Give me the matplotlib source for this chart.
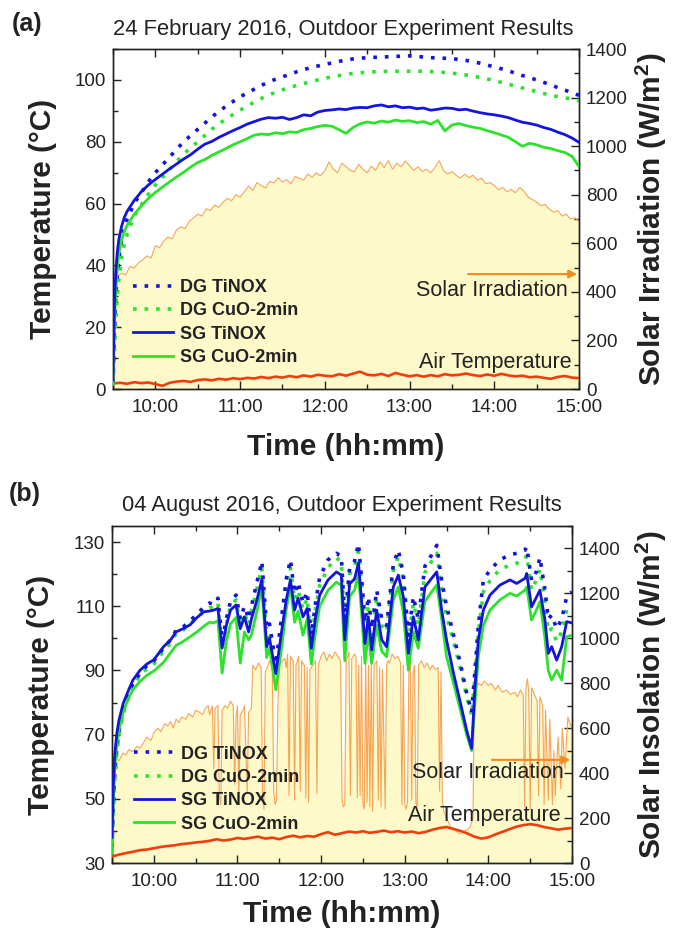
import numpy as np
import matplotlib
matplotlib.use("Agg")
import matplotlib.pyplot as plt
from matplotlib.ticker import MultipleLocator, FixedLocator
from matplotlib import font_manager as fm

plt.rcParams['font.family'] = ['Liberation Sans', 'DejaVu Sans']
plt.rcParams['mathtext.fontset'] = 'custom'
plt.rcParams['mathtext.rm'] = 'Liberation Sans'
plt.rcParams['mathtext.bf'] = 'Liberation Sans:bold'

_names = {f.name for f in fm.fontManager.ttflist}
NARROW = 'Liberation Sans Narrow' in _names
TICK_FAM = ['Liberation Sans Narrow', 'Liberation Sans'] if NARROW else ['Liberation Sans']
TICK_SIZE = 15.5 if NARROW else 13.5

# ---------------- Panel (a) data : 24 Feb 2016 ----------------
a_temp_min = [0, 1, 2, 3, 4, 6, 8] + list(range(10, 331, 5))
a_dg_tinox = [2, 18, 30, 37, 42, 48, 52,
              55, 60, 63.5, 67, 70, 72.5, 75, 77.5, 80, 82, 84, 86, 88, 89.8, 91.5, 93,
              94.5, 95.8, 97, 98.2, 99.3, 100.2, 101, 101.8, 102.6, 103.3, 104, 104.5,
              105, 105.5, 106, 106.4, 106.8, 107, 107.2, 107.3, 107.4, 107.5, 107.6, 107.7,
              107.8, 107.6, 107.4, 107.2, 107.1, 107, 106.9, 106.6, 106.3, 105.9, 105.4, 104.8,
              104.2, 103.6, 102.9, 102.2, 101.4, 100.7, 100.0, 99.2, 98.4, 97.5, 96.7, 95.9, 95.0]
a_dg_cuo = [1, 12, 22, 30, 35, 42, 47,
            50, 56, 59.5, 63, 66, 68.5, 71, 73.5, 76, 78, 80, 82, 84, 85.8, 87.3, 88.8,
            90.2, 91.5, 92.8, 94, 95, 96, 96.8, 97.5, 98.2, 98.8, 99.4, 100,
            100.5, 101, 101.4, 101.8, 102.1, 102.3, 102.5, 102.6, 102.7, 102.8, 102.8, 102.8,
            102.8, 102.8, 102.8, 102.7, 102.6, 102.4, 102.2, 101.9, 101.6, 101.2, 100.8, 100.3,
            99.8, 99.2, 98.6, 98, 97.4, 96.8, 96.2, 95.6, 95, 94.6, 94.2, 93.8, 93.3]
a_sg_tinox = [3, 28, 38, 44, 48, 52.5, 55.5,
              57.5, 61, 63.8, 66, 67.8, 69.5, 71.2, 72.8, 74.4, 75.8, 77.6, 79.2, 80.1, 81.4, 82.5, 83.6,
              84.6, 85.7, 86.5, 87.3, 87.8, 87.6, 87.9, 87.2, 87.8, 88.7, 88.4, 89.6,
              90.1, 90.3, 90.6, 90.4, 90.9, 91.1, 91.0, 91.6, 91.9, 91.3, 91.6, 91.0,
              91.2, 90.7, 90.9, 90.2, 90.5, 90.9, 90.8, 90.3, 90.5, 89.9, 89.4, 89.0,
              88.7, 88.3, 87.8, 87.0, 86.3, 85.9, 85.4, 84.6, 84.0, 83.1, 82.3, 81.2, 79.8]
a_sg_cuo = [2, 20, 32, 39, 43.5, 48, 51,
            53, 56.5, 59.2, 61.6, 63.6, 65.3, 67.0, 68.6, 70.1, 71.8, 73.3, 74.2, 75.6, 76.7, 77.8, 79.0,
            80.0, 81.0, 82.1, 82.5, 82.3, 82.9, 82.6, 83.2, 83.0, 83.9, 84.3, 84.9,
            85.3, 85.0, 83.9, 82.7, 84.6, 85.8, 86.4, 86.0, 86.7, 86.3, 87.0, 86.6,
            86.8, 86.2, 86.5, 85.7, 86.9, 83.5, 85.4, 85.9, 85.2, 84.7, 84.3, 83.6,
            82.9, 82.2, 81.4, 80.0, 78.5, 79.5, 79.0, 78.2, 77.8, 77.1, 76.5, 75.3, 72.0]
a_air_min = list(range(0, 331, 5))
a_air = [1.8, 2.0, 1.7, 2.2, 1.9, 2.1, 1.6, 1.0, 2.0, 2.4, 2.6, 2.3,
         2.9, 3.1, 2.8, 3.3, 3.0, 3.5, 3.2, 3.6, 3.4, 3.9, 3.5, 4.0,
         3.7, 4.2, 3.8, 4.4, 4.0, 4.6, 4.3, 4.1, 4.8, 4.3, 5.0, 5.6,
         4.6, 4.4, 4.9, 4.2, 5.2, 4.6, 4.1, 4.5, 4.0, 4.5, 4.1, 4.8,
         4.4, 4.6, 5.0, 4.5, 4.2, 4.7, 4.3, 4.9, 4.4, 4.1, 4.3, 3.8,
         4.0, 3.6, 3.3, 3.9, 4.2, 3.7,
         3.5]
a_solar_min = list(range(0, 331, 3))
a_solar = [450, 462, 478, 470, 505, 498, 520, 532, 548, 540,
           590, 582, 610, 625, 618, 655, 668, 660, 690, 705,
           720, 712, 742, 735, 758, 748, 770, 785, 775, 800,
           790, 812, 835, 818, 850, 838, 828, 855, 848, 870,
           852, 862, 845, 875, 868, 860, 885, 872, 890, 878,
           898, 935, 905, 890, 930, 915, 900, 895, 925, 905,
           890, 918, 900, 935, 912, 940, 905, 930, 915, 938,
           920, 900, 915, 895, 905, 890, 912, 940, 900, 885,
           895, 880, 868, 885, 870, 880, 860, 868, 845, 850,
           838, 820, 830, 812, 822, 808, 830, 815, 790, 780,
           770, 755, 760, 740, 728, 735, 712, 720, 700, 705,
           690]

# ---------------- Panel (b) data : 04 Aug 2016 ----------------
b_temp_min = [0, 1, 2, 3.5, 5, 8, 12, 15, 20, 25, 30, 37, 42, 46, 51, 56, 61, 66, 70, 73, 76,
              79, 82, 85, 89, 92, 95, 98, 100, 104, 107.5, 111, 113, 117.5, 121.5, 125, 128,
              131, 133.5, 137, 140, 143, 146, 149, 155, 161, 164.5, 167, 170.5, 174, 176.8,
              179.2, 181.5, 183.9, 186.3, 189.9, 193.5, 197, 201.8, 205.4, 209, 212.6, 216.2,
              219.7, 224.5, 229.3, 233, 236.5, 240, 245, 250, 254.4, 258, 260.4, 262.8, 266.4,
              271.2, 278.3, 285.5, 290.3, 296.3, 297.5, 301, 304.7, 307, 310.6, 313, 315.4,
              319, 322.6, 326.2, 330]
b_sg_tinox = [38, 55, 64, 70.5, 74.5, 79.7, 84, 87, 90, 92, 93.3, 97.4, 99.5, 102, 103, 104.2,
              106.5, 108.3, 108.5, 108.8, 109.3,
              97, 104, 108.8, 110.4, 103, 106.7, 102, 106, 112, 118.4, 97.4, 100, 89, 101.6,
              112, 118.2, 108.8, 112.5, 106.7, 109.3, 96.9, 106.5, 113.5, 118.2, 120.7, 119.7,
              99.5, 117, 118.5, 123.5, 110.9, 98.4, 106.7, 96.4, 108.8, 99.5, 97.4, 116, 119.7,
              113, 95.3, 106.7, 99.5, 116, 118.7, 120.7, 108.8, 99.5, 89.1, 79.8, 71.4, 65.7,
              84.9, 99.5, 108.8, 113.5, 116.6, 118.2, 117.1, 118.7, 120.2, 109.8, 113, 115,
              105.7, 95.3, 97.4, 93.2, 97.4, 105.2, 104.8]
b_sg_cuo = [33, 50, 60, 67, 71.5, 77, 81.5, 84, 86.5, 88.5, 89.8, 92.5, 95.5, 97.8, 99, 100.5,
            102, 103.8, 105, 104.8, 105.5,
            89.2, 99, 104.5, 106.5, 92.3, 102, 99.5, 101, 108.5, 115.8, 94, 97, 84, 96.5,
            109, 116.5, 105, 108.5, 101, 106, 92, 102, 110, 115, 117.5, 116.5,
            93, 113, 115, 120, 107, 92.2, 102, 92.2, 104, 96, 94.3, 112, 116,
            108, 90.1, 102, 96.9, 111.5, 114.5, 116.6, 106, 94.3, 86, 77.5, 70, 65,
            80, 94.3, 104, 108.8, 112, 114, 113.2, 115, 116, 105.7, 109, 111.4,
            100, 90, 87, 90.1, 87, 100.5, 101]
b_dg_tinox = [35, 48, 58, 66, 71, 77.5, 82.5, 86, 89, 91.5, 93, 97, 99.5, 102.5, 103.5, 105.5,
              107.5, 109.8, 111, 110.5, 112.5,
              99, 106, 111.5, 113.5, 106, 110, 106, 110, 117.5, 124, 103, 104.5, 92, 106,
              118.5, 124.5, 114, 117.5, 111, 114.5, 101, 111, 119, 124.5, 126.5, 125.5,
              106, 122, 124, 129.5, 118, 105, 113, 103, 115, 106, 104, 123, 127.5,
              120, 101, 113, 106, 122.5, 126, 129, 118, 110, 101, 92, 83, 77,
              90, 104, 118.2, 121.3, 124.5, 126, 126.5, 127.5, 128.5, 118, 121, 125.2,
              115, 106, 107.3, 103, 106, 113, 114.5]
b_dg_cuo = [34, 46, 56, 64.5, 70, 76.5, 81.5, 85, 88.5, 90.5, 92, 96, 98.5, 101.5, 102.5, 104.5,
            106.5, 108.5, 109.5, 109.5, 111,
            97, 104, 110, 112, 104, 108, 104, 108.5, 115.5, 122, 100, 102, 90, 104,
            116, 122, 112, 115, 109, 112.5, 99, 109, 116.5, 122, 125, 124,
            103, 120, 122.5, 127, 116, 102, 110.5, 101, 113, 104, 102, 121, 125.5,
            118, 98.5, 111, 104, 120.5, 124, 126.5, 115.5, 107, 99, 90.5, 82, 76,
            88, 101.5, 114.5, 118, 121.5, 122.8, 123.4, 124.5, 126, 115, 118.5, 121.5,
            112, 102, 103, 99, 102, 109, 110]
b_air_min = list(range(0, 331, 5))
b_air = [32.0, 32.6, 33.1, 33.5, 34.0, 34.2, 34.6, 35.0, 35.3, 35.5, 35.9, 36.1,
         36.4, 36.6, 36.9, 37.4, 37.0, 37.3, 37.8, 37.5, 37.9, 38.2, 37.6, 37.9,
         37.4, 38.1, 38.5, 38.0, 38.4, 38.2, 39.0, 39.6, 38.8, 39.3, 39.8, 39.5,
         39.9, 39.4, 39.7, 40.1, 39.6, 39.9, 39.5, 39.8, 39.3, 39.7, 40.4, 40.9,
         41.2, 40.6, 40.0, 39.2, 38.2, 37.6, 38.0, 38.9, 39.7, 40.5, 41.3, 41.8,
         42.1, 41.8, 41.2, 40.8, 40.4, 40.7,
         40.9]
b_solar_min = [0, 1, 3, 5, 8, 10, 12, 15, 18, 20, 23, 25, 28, 30, 33, 35, 38, 40, 42, 44, 46, 48,
               50, 53, 55, 58, 60, 63, 65, 67, 69, 70, 72, 73, 74, 76, 77, 78, 79, 81, 83, 85,
               87, 88, 89, 90, 91, 92, 94, 95, 97, 98, 100, 101, 103, 105, 107, 108, 109, 110,
               112, 113, 115, 116, 117, 118, 119, 120, 122, 124, 125, 126, 127, 128, 130, 131,
               132, 134, 135, 136, 138, 139, 140, 141, 142, 144, 146, 147, 148, 150, 152, 154,
               156, 158, 160, 162, 164, 165, 166, 167, 168, 170, 171, 172, 174, 175, 176, 177,
               178, 179, 180, 181, 182, 183, 184, 185, 186, 187, 188, 190, 191, 192, 193, 194,
               196, 197, 198, 199, 201, 203, 205, 207, 208, 209, 210, 211, 212, 213, 214, 215,
               216, 217, 218, 219, 220, 222, 224, 226, 228, 230, 232, 234, 235, 236, 237, 238,
               240, 243, 246, 249, 252, 255, 257, 259, 260, 261, 263, 265, 267, 270, 272, 275,
               277, 280, 283, 286, 289, 291, 293, 295, 296, 297, 298, 299, 300, 301, 303, 305,
               306, 307, 309, 310, 311, 313, 314, 316, 317, 318, 320, 322, 323, 325, 327, 328, 330]
b_solar = [430, 460, 470, 455, 490, 480, 505, 495, 520, 510, 540, 560, 545, 580, 600, 585, 620, 610, 630, 600, 640, 625,
           650, 640, 665, 650, 680, 670, 660, 690, 700, 660, 700, 420, 690, 700, 300, 260, 680, 700, 690, 720,
           700, 350, 650, 700, 290, 660, 680, 700, 310, 670, 690, 880, 860, 890, 870, 300, 240, 850,
           880, 900, 870, 320, 260, 280, 700, 880, 900, 910, 870, 930, 300, 920, 900, 280,
           880, 920, 320, 900, 880, 290, 870, 270, 860, 880, 900, 310, 880, 920, 940, 900,
           930, 910, 940, 920, 900, 280, 250, 260, 900, 940, 300, 910, 930, 920, 290, 880,
           300, 920, 260, 240, 900, 270, 880, 250, 890, 230, 880, 900, 280, 870, 250, 860,
           240, 880, 900, 890, 930, 910, 920, 890, 260, 880, 260, 240, 270, 870, 900, 280,
           850, 880, 270, 250, 880, 900, 870, 890, 860, 880, 860, 870, 320, 850, 280, 230,
           200, 160, 150, 130, 140, 150, 160, 200, 820, 780, 800, 790, 810, 790, 800, 770,
           790, 760, 770, 750, 760, 740, 770, 750, 250, 780, 820, 760, 240, 780, 750, 720,
           300, 740, 700, 260, 680, 280, 640, 260, 500, 300, 560, 330, 600, 420, 650, 630, 600]

# ---------------- styling ----------------
C_BLUE = '#1414DC'
C_GREEN = '#2CE22C'
C_AIR = '#F23C0E'
C_SOLAR = '#F6A555'
C_FILL = '#FEF9C8'
C_ARROW = '#F58A1F'
TXT = '#222222'

fig = plt.figure(figsize=(6.75, 9.3), dpi=100)


def to_h(mins):
    return 9.5 + np.asarray(mins, dtype=float) / 60.0


def make_panel(rect, ylim, ymaj, ymin_, rlim, rlabel, title, title_xy, letter, letter_xy,
               temps, air, solar, leg_anchor, sol_txt, arrow_y, arrow_x0, air_txt, ylab_x, rlab_x, xlab_y):
    ax = fig.add_axes(rect)
    ax2 = ax.twinx()
    ax.set_zorder(2)
    ax2.set_zorder(1)
    ax.patch.set_visible(False)

    st, sv = solar
    ax2.fill_between(to_h(st), 0, sv, color=C_FILL, lw=0, zorder=1)
    ax2.plot(to_h(st), sv, color=C_SOLAR, lw=0.8, zorder=2)
    ax2.set_ylim(*rlim)
    ax2.yaxis.set_major_locator(MultipleLocator(200))
    ax2.yaxis.set_minor_locator(MultipleLocator(100))

    tm, dgt, dgc, sgt, sgc = temps
    th = to_h(tm)
    ax.plot(th, dgt, color=C_BLUE, lw=2.6, ls=(0, (1, 2.2)), label='DG TiNOX', zorder=5)
    ax.plot(th, dgc, color=C_GREEN, lw=2.6, ls=(0, (1, 2.2)), label='DG CuO-2min', zorder=4)
    ax.plot(th, sgt, color=C_BLUE, lw=2.0, label='SG TiNOX', zorder=7)
    ax.plot(th, sgc, color=C_GREEN, lw=2.0, label='SG CuO-2min', zorder=6)
    am, av = air
    ax.plot(to_h(am), av, color=C_AIR, lw=1.9, zorder=3)

    ax.set_xlim(9.5, 15.0)
    ax.set_ylim(*ylim)
    ax.xaxis.set_major_locator(FixedLocator([10, 11, 12, 13, 14, 15]))
    ax.xaxis.set_minor_locator(MultipleLocator(0.5))
    ax.set_xticklabels(['10:00', '11:00', '12:00', '13:00', '14:00', '15:00'])
    ax.yaxis.set_major_locator(FixedLocator(ymaj))
    ax.yaxis.set_minor_locator(FixedLocator(ymin_))

    for a in (ax, ax2):
        a.tick_params(which='both', direction='in', labelsize=TICK_SIZE, colors=TXT, width=1.0)
        a.tick_params(which='major', length=6)
        a.tick_params(which='minor', length=3.5)
        for s in a.spines.values():
            s.set_linewidth(1.0)
            s.set_color('#222222')
        for lab in a.get_xticklabels() + a.get_yticklabels():
            lab.set_family(TICK_FAM)
    ax.tick_params(which='both', top=True, right=False)
    ax.tick_params(axis='y', pad=5)
    ax.tick_params(axis='x', pad=7)
    ax2.tick_params(axis='y', pad=5)

    ax.set_ylabel('Temperature (°C)', fontsize=21.5, fontweight='bold', color=TXT)
    ax.yaxis.set_label_coords(ylab_x, 0.5)
    ax2.set_ylabel(rlabel, fontsize=21.5, fontweight='bold', color=TXT, rotation=90)
    ax2.yaxis.set_label_coords(rlab_x, 0.5)
    ax.set_xlabel('Time (hh:mm)', fontsize=21.5, fontweight='bold', color=TXT)
    ax.xaxis.set_label_coords(0.5, xlab_y)

    fig.text(title_xy[0], title_xy[1], title, fontsize=15.8, ha='center', va='center', color=TXT)
    fig.text(letter_xy[0], letter_xy[1], letter, fontsize=18, fontweight='bold', ha='left', va='center', color=TXT)

    leg = ax.legend(loc='upper left', bbox_to_anchor=leg_anchor, frameon=False, borderpad=0,
                    borderaxespad=0, handlelength=2.2, handletextpad=0.4, labelspacing=0.35,
                    prop={'size': 13, 'weight': 'bold'})
    for t in leg.get_texts():
        t.set_color(TXT)

    ax.text(sol_txt[0], sol_txt[1], 'Solar Irradiation', transform=ax.transAxes, fontsize=15.5,
            ha='right', va='center', color=TXT, zorder=10)
    ax.annotate('', xy=(0.996, arrow_y), xytext=(arrow_x0, arrow_y), xycoords='axes fraction',
                arrowprops=dict(arrowstyle='-|>', color=C_ARROW, lw=1.5, mutation_scale=12,
                                shrinkA=0, shrinkB=0), zorder=10)
    ax.text(air_txt[0], air_txt[1], 'Air Temperature', transform=ax.transAxes, fontsize=15.5,
            ha='right', va='center', color=TXT, zorder=10)
    return ax, ax2


W, H = 675.0, 930.0
# panel (a): axes px x 113..579, y 49..389
make_panel([113 / W, 1 - 389 / H, 466 / W, 340 / H], (0, 110), [0, 20, 40, 60, 80, 100],
           [10, 30, 50, 70, 90, 110], (0, 1400), r'Solar Irradiation (W/m$^\mathbf{2}$)',
           '24 February 2016, Outdoor Experiment Results', (343 / W, 1 - 30 / H), '(a)', (12 / W, 1 - 24 / H),
           (a_temp_min, a_dg_tinox, a_dg_cuo, a_sg_tinox, a_sg_cuo), (a_air_min, a_air),
           (a_solar_min, a_solar), (0.043, 0.323), (0.976, 0.291), 0.338, 0.762, (0.985, 0.079),
           -0.12, 1.116, -0.128)

# panel (b): axes px x 112..572, y 526..863
make_panel([112 / W, 1 - 863 / H, 460 / W, 337 / H], (30, 135), [30, 50, 70, 90, 110, 130],
           [40, 60, 80, 100, 120], (0, 1500), r'Solar Insolation (W/m$^\mathbf{2}$)',
           '04 August 2016, Outdoor Experiment Results', (342 / W, 1 - 506 / H), '(b)', (9 / W, 1 - 494 / H),
           (b_temp_min, b_dg_tinox, b_dg_cuo, b_sg_tinox, b_sg_cuo), (b_air_min, b_air),
           (b_solar_min, b_solar), (0.048, 0.348), (0.983, 0.27), 0.306, 0.826, (0.976, 0.142),
           -0.124, 1.133, -0.11)

fig.savefig('out.png', dpi=100)
